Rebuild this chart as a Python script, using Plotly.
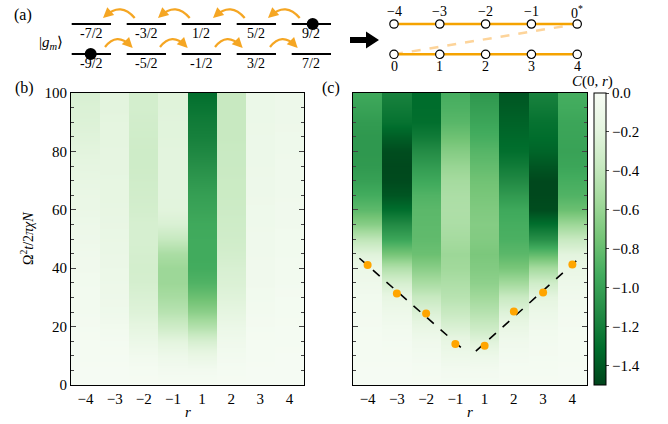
import plotly.graph_objects as go

W, H = 668, 424

# ---------------- data ----------------
r_labels = ["−4", "−3", "−2", "−1", "1", "2", "3", "4"]
t_vals = list(range(0, 101, 5))  # Omega^2 t / 2 pi chi N

# panel (b): C(0,r) columns, rows at t = 0,5,...,100
b_m4 = [-0.02, -0.02, -0.03, -0.03, -0.04, -0.05, -0.05, -0.06, -0.07, -0.08, -0.10,
        -0.11, -0.13, -0.14, -0.16, -0.18, -0.20, -0.22, -0.24, -0.25, -0.27]
b_m3 = [-0.02, -0.02, -0.03, -0.04, -0.06, -0.09, -0.10, -0.11, -0.12, -0.13, -0.14,
        -0.15, -0.16, -0.17, -0.17, -0.18, -0.18, -0.19, -0.19, -0.20, -0.20]
b_m2 = [-0.02, -0.03, -0.06, -0.12, -0.18, -0.23, -0.26, -0.29, -0.30, -0.29, -0.28,
        -0.28, -0.30, -0.31, -0.32, -0.33, -0.33, -0.32, -0.31, -0.30, -0.30]
b_m1 = [-0.02, -0.05, -0.10, -0.20, -0.33, -0.45, -0.53, -0.58, -0.58, -0.52, -0.38,
        -0.26, -0.21, -0.20, -0.20, -0.20, -0.20, -0.21, -0.21, -0.22, -0.22]
b_p1 = [-0.02, -0.05, -0.14, -0.28, -0.47, -0.65, -0.78, -0.88, -0.93, -0.94, -0.94,
        -0.95, -0.98, -1.01, -1.05, -1.10, -1.15, -1.19, -1.22, -1.26, -1.30]
b_p2 = [-0.02, -0.03, -0.05, -0.08, -0.12, -0.18, -0.22, -0.25, -0.27, -0.30, -0.32,
        -0.33, -0.34, -0.35, -0.35, -0.36, -0.36, -0.37, -0.37, -0.37, -0.37]
b_p3 = [-0.02, -0.02, -0.03, -0.03, -0.04, -0.05, -0.06, -0.07, -0.07, -0.08, -0.08,
        -0.09, -0.09, -0.10, -0.10, -0.11, -0.11, -0.11, -0.12, -0.12, -0.12]
b_p4 = [-0.02, -0.02, -0.02, -0.03, -0.03, -0.04, -0.04, -0.05, -0.05, -0.06, -0.06,
        -0.07, -0.07, -0.08, -0.08, -0.08, -0.09, -0.09, -0.10, -0.10, -0.10]

# panel (c)
c_m4 = [-0.02, -0.02, -0.03, -0.03, -0.04, -0.05, -0.06, -0.09, -0.12, -0.22, -0.42,
        -0.67, -0.83, -0.93, -1.00, -1.04, -1.05, -1.05, -1.03, -0.99, -0.95]
c_m3 = [-0.02, -0.02, -0.03, -0.04, -0.06, -0.10, -0.16, -0.28, -0.48, -0.74, -0.97,
        -1.13, -1.30, -1.42, -1.47, -1.48, -1.46, -1.38, -1.28, -1.23, -1.18]
c_m2 = [-0.02, -0.03, -0.05, -0.08, -0.15, -0.25, -0.37, -0.52, -0.66, -0.78, -0.82,
        -0.83, -0.84, -0.88, -0.95, -1.03, -1.12, -1.22, -1.30, -1.31, -1.31]
c_m1 = [-0.03, -0.05, -0.10, -0.16, -0.26, -0.37, -0.45, -0.50, -0.56, -0.58, -0.54,
        -0.51, -0.50, -0.51, -0.54, -0.60, -0.68, -0.77, -0.85, -0.89, -0.92]
c_p1 = [-0.03, -0.05, -0.11, -0.22, -0.35, -0.46, -0.56, -0.64, -0.69, -0.72, -0.69,
        -0.68, -0.70, -0.73, -0.76, -0.81, -0.86, -0.92, -0.97, -1.01, -1.05]
c_p2 = [-0.02, -0.03, -0.05, -0.08, -0.14, -0.23, -0.36, -0.55, -0.73, -0.84, -0.90,
        -0.92, -0.95, -1.04, -1.13, -1.22, -1.30, -1.33, -1.36, -1.39, -1.42]
c_p3 = [-0.02, -0.03, -0.04, -0.05, -0.07, -0.12, -0.19, -0.32, -0.54, -0.82, -1.10,
        -1.30, -1.46, -1.48, -1.48, -1.42, -1.35, -1.31, -1.28, -1.23, -1.18]
c_p4 = [-0.02, -0.02, -0.03, -0.03, -0.04, -0.05, -0.07, -0.10, -0.14, -0.20, -0.37,
        -0.58, -0.78, -0.88, -0.92, -0.97, -0.99, -0.98, -0.97, -0.94, -0.92]

# arrival times (orange dots) in panel (c)
arrival_t = [41.1, 31.3, 24.5, 14.0, 13.4, 25.2, 31.7, 41.3]
# light-cone fit lines (x in column index units)
fit_left_x = [-0.28, 3.32]
fit_left_t = [43.4, 11.7]
fit_right_x = [3.70, 7.33]
fit_right_t = [11.6, 44.3]

# schematic (a)
top_levels = ["-7/2", "-3/2", "1/2", "5/2", "9/2"]
bottom_levels = ["-9/2", "-5/2", "-1/2", "3/2", "7/2"]
chain_top = ["−4", "−3", "−2", "−1", "0<sup>*</sup>"]
chain_bottom = ["0", "1", "2", "3", "4"]

# ---------------- helpers ----------------
def px(x):
    return x / W

def py(y):
    return 1 - y / H

ORANGE = "#F5A623"
FONT = "Liberation Serif"
FS = 15
greens = [[0.0, "#00441b"], [0.125, "#006d2c"], [0.25, "#238b45"], [0.375, "#41ab5d"],
          [0.5, "#74c476"], [0.625, "#a1d99b"], [0.75, "#c7e9c0"], [0.875, "#e5f5e0"],
          [1.0, "#f7fcf5"]]

cols_b = [b_m4, b_m3, b_m2, b_m1, b_p1, b_p2, b_p3, b_p4]
cols_c = [c_m4, c_m3, c_m2, c_m1, c_p1, c_p2, c_p3, c_p4]
xi = list(range(len(r_labels)))

# each column is drawn as a band with sharp side edges; smoothing acts only along t
eps = 0.001
x_band = []
for i in xi:
    x_band += [i - 0.5 + eps, i + 0.5 - eps]

def band_rows(cols):
    return [[v for col in cols for v in (col[k], col[k])] for k in range(len(t_vals))]

z_b = band_rows(cols_b)
z_c = band_rows(cols_c)

fig = go.Figure()
fig.add_trace(go.Heatmap(z=z_b, x=x_band, y=t_vals, colorscale=greens, zmin=-1.5, zmax=0,
                         zsmooth="best", showscale=False, xaxis="x", yaxis="y"))
fig.add_trace(go.Heatmap(z=z_c, x=x_band, y=t_vals, colorscale=greens, zmin=-1.5, zmax=0,
                         zsmooth="best", xaxis="x2", yaxis="y2",
                         colorbar=dict(x=px(594), xanchor="left", y=py(385), yanchor="bottom",
                                       len=292 / H, lenmode="fraction", thickness=12,
                                       xpad=0, ypad=0, outlinewidth=1, outlinecolor="black",
                                       tickvals=[0, -0.2, -0.4, -0.6, -0.8, -1.0, -1.2, -1.4],
                                       tickformat=".1f", ticks="outside", ticklen=3,
                                       tickfont=dict(size=FS, family=FONT))))
fig.add_trace(go.Scatter(x=fit_left_x, y=fit_left_t, mode="lines",
                         line=dict(color="black", dash="dash", width=1.6),
                         xaxis="x2", yaxis="y2", showlegend=False))
fig.add_trace(go.Scatter(x=fit_right_x, y=fit_right_t, mode="lines",
                         line=dict(color="black", dash="dash", width=1.6),
                         xaxis="x2", yaxis="y2", showlegend=False))
fig.add_trace(go.Scatter(x=xi, y=arrival_t, mode="markers",
                         marker=dict(color="#FFA500", size=8, line=dict(width=0)),
                         xaxis="x2", yaxis="y2", showlegend=False))

xax = dict(range=[-0.5, 7.5], tickvals=xi, ticktext=r_labels, ticks="", showline=True,
           linecolor="black", linewidth=1.2, mirror=True, showgrid=False, zeroline=False,
           tickfont=dict(size=FS, family=FONT))
yax = dict(range=[0, 100], tickvals=[0, 20, 40, 60, 80, 100], ticks="inside", ticklen=5,
           showline=True, linecolor="black", linewidth=1.2, mirror="allticks", showgrid=False,
           zeroline=False, minor=dict(dtick=5, ticks="inside", ticklen=3, showgrid=False),
           tickfont=dict(size=FS, family=FONT))

fig.update_layout(
    width=W, height=H, margin=dict(l=0, r=0, t=0, b=0, pad=0, autoexpand=False),
    paper_bgcolor="white", plot_bgcolor="white",
    font=dict(family=FONT, size=FS, color="black"),
    showlegend=False,
    xaxis=dict(domain=[px(71), px(304)], anchor="y", **xax),
    yaxis=dict(domain=[py(385), py(93)], anchor="x", **yax),
    xaxis2=dict(domain=[px(353), px(587)], anchor="y2", **xax),
    yaxis2=dict(domain=[py(385), py(93)], anchor="x2", showticklabels=False, **yax),
)

shapes = []
annotations = []

def text(x, y, s, size=FS, **kw):
    annotations.append(dict(x=px(x), y=py(y), xref="paper", yref="paper", text=s,
                            showarrow=False, font=dict(size=size, family=FONT, color="black"),
                            xanchor=kw.pop("xanchor", "center"), yanchor=kw.pop("yanchor", "middle"),
                            **kw))

# ---- (a) level diagram ----
seg_w = 39.3
lefts = [71.7 + 55 * i for i in range(5)]
for i, lab in enumerate(top_levels):
    shapes.append(dict(type="line", xref="paper", yref="paper", x0=px(lefts[i]), x1=px(lefts[i] + seg_w),
                       y0=py(24), y1=py(24), line=dict(color="black", width=2.2)))
    text(lefts[i] + seg_w / 2, 33.5, lab, size=14)
for i, lab in enumerate(bottom_levels):
    shapes.append(dict(type="line", xref="paper", yref="paper", x0=px(lefts[i]), x1=px(lefts[i] + seg_w),
                       y0=py(54), y1=py(54), line=dict(color="black", width=2.2)))
    text(lefts[i] + seg_w / 2, 63.5, lab, size=14)

# filled atoms
for cx, cy in [(lefts[4] + 21, 24), (lefts[0] + 19, 54)]:
    shapes.append(dict(type="circle", xref="paper", yref="paper", x0=px(cx - 6), x1=px(cx + 6),
                       y0=py(cy + 6), y1=py(cy - 6), fillcolor="black", line=dict(color="black", width=0)))

def curved_arrow(S, C, E):
    ex = E[0] + (C[0] - E[0]) * 0.15
    ey = E[1] + (C[1] - E[1]) * 0.15
    shapes.append(dict(type="path", xref="paper", yref="paper",
                       path=f"M {px(S[0])},{py(S[1])} Q {px(C[0])},{py(C[1])} {px(ex)},{py(ey)}",
                       line=dict(color=ORANGE, width=2.3)))
    dx, dy = C[0] - E[0], C[1] - E[1]
    n = (dx * dx + dy * dy) ** 0.5
    annotations.append(dict(x=px(E[0]), y=py(E[1]), xref="paper", yref="paper", text="",
                            showarrow=True, ax=dx / n * 5, ay=dy / n * 5, arrowhead=2,
                            arrowsize=0.9, arrowwidth=2.3, arrowcolor=ORANGE, standoff=0))

for i in range(4):
    # top row: leftward
    S = (lefts[i + 1] + 8, 18)
    E = (lefts[i] + seg_w - 8, 18)
    curved_arrow(S, ((S[0] + E[0]) / 2 + 2, 2), E)
    # bottom row: rightward
    S = (lefts[i] + seg_w - 6, 47)
    E = (lefts[i + 1] + 6, 48)
    curved_arrow(S, ((S[0] + E[0]) / 2 - 2, 32), E)

text(51, 43, "|<i>g<sub>m</sub></i>⟩", size=15)
text(23, 15, "(a)", size=16)

# big black arrow
shapes.append(dict(type="path", xref="paper", yref="paper",
                   path=(f"M {px(350)},{py(37)} L {px(366)},{py(37)} L {px(366)},{py(31.5)} "
                         f"L {px(379)},{py(40)} L {px(366)},{py(48.5)} L {px(366)},{py(43)} "
                         f"L {px(350)},{py(43)} Z"),
                   fillcolor="black", line=dict(color="black", width=0)))

# chain
xs = [394 + 45.8 * i for i in range(5)]
shapes.append(dict(type="line", xref="paper", yref="paper", x0=px(xs[0]), y0=py(54.3),
                   x1=px(xs[4]), y1=py(24), line=dict(color="#FDD49A", width=2.5, dash="dash")))
for yy in (24, 54.3):
    shapes.append(dict(type="line", xref="paper", yref="paper", x0=px(xs[0]), x1=px(xs[4]),
                       y0=py(yy), y1=py(yy), line=dict(color="#F5A300", width=2.5)))
for yy in (24, 54.3):
    for xx in xs:
        shapes.append(dict(type="circle", xref="paper", yref="paper", x0=px(xx - 4.2), x1=px(xx + 4.2),
                           y0=py(yy + 4.2), y1=py(yy - 4.2), fillcolor="white",
                           line=dict(color="black", width=1.2)))
for xx, lab in zip(xs, chain_top):
    text(xx, 12, lab, size=14)
for xx, lab in zip(xs, chain_bottom):
    text(xx, 66, lab, size=14)

# panel labels & axis titles
text(24, 88, "(b)", size=16)
text(331, 88, "(c)", size=16)
text(187.5, 412, "<i>r</i>", size=FS)
text(470, 412, "<i>r</i>", size=FS)
text(27, 239, "Ω<sup>2</sup><i>t</i>/2<i>πχN</i>", size=14, textangle=-90)
text(592, 81, "<i>C</i>(0, <i>r</i>)", size=FS)

fig.update_layout(shapes=shapes, annotations=annotations)
fig.write_html("out.html", config={"displayModeBar": False},
               post_script="document.body.style.margin='0';document.body.style.overflow='hidden';")
